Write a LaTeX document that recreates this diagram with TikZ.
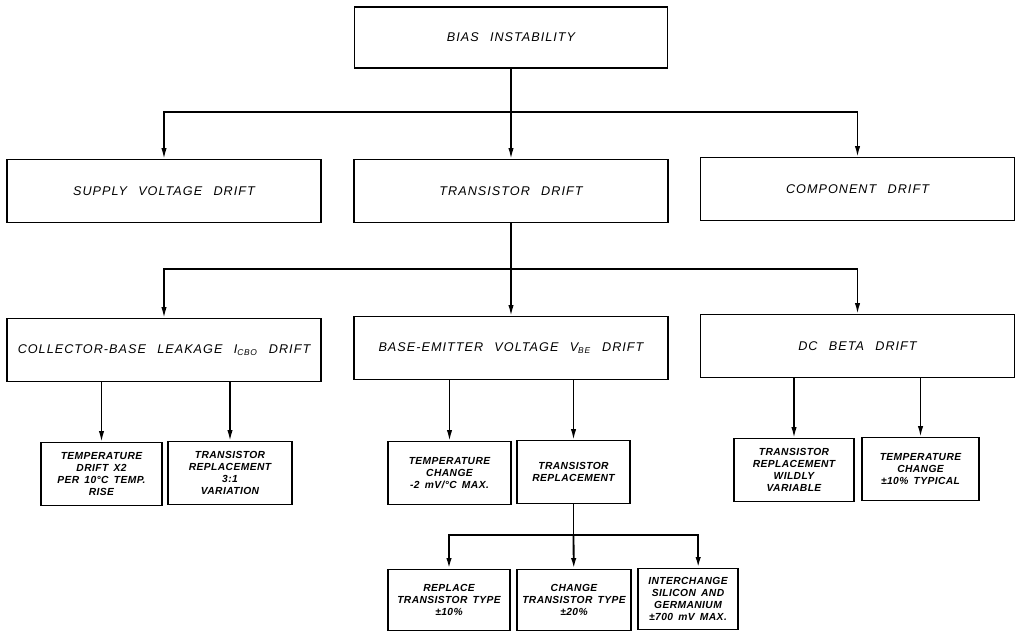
\documentclass[tikz,border=0pt]{standalone}
\usepackage{fontspec}
\newfontfamily\bigletter[LetterSpace=8,WordSpace=2.5]{Liberation Sans}
\newfontfamily\smallletter[LetterSpace=4,WordSpace=1.6]{Liberation Sans}
\usetikzlibrary{arrows.meta, positioning, calc}

\begin{document}
\begin{tikzpicture}[
        x=0.25mm, y=-0.25mm,
        >={Latex[length=7.5pt,width=3.8pt]},
        line width=1pt,
        bigbox/.style={
            draw=black,
            line width=1.2pt,
            align=center,
            inner sep=2pt,
            minimum width=78.5mm,
            minimum height=15.75mm,
            font=\bigletter\itshape\fontsize{9}{10.8}\selectfont
        },
        smallbox/.style={
            draw=black,
            line width=1.2pt,
            align=center,
            inner sep=1pt,
            minimum height=15.75mm,
            font=\smallletter\bfseries\itshape\fontsize{7.3}{8.6}\selectfont
        }
    ]
        \useasboundingbox (0,0) rectangle (1017,631);

        % top
        \node[bigbox, minimum width=78.25mm, minimum height=15.25mm] (c2r1) at (511, 37.5) {BIAS INSTABILITY};

        % second row
        \node[bigbox] (c1r2) at (164, 191)   {SUPPLY VOLTAGE DRIFT};
        \node[bigbox] (c2r2) at (511, 191)   {TRANSISTOR DRIFT};
        \node[bigbox] (c3r2) at (857.5, 189) {COMPONENT DRIFT};

        % third row
        \node[bigbox] (c1r3) at (164, 350)   {COLLECTOR-BASE LEAKAGE I\textsubscript{CBO} DRIFT};
        \node[bigbox] (c2r3) at (511, 348)   {BASE-EMITTER VOLTAGE V\textsubscript{BE} DRIFT};
        \node[bigbox] (c3r3) at (857.5, 346) {DC BETA DRIFT};

        % fourth row
        \node[smallbox, minimum width=30.25mm] (c1r4) at (101.5, 474) {TEMPERATURE\\DRIFT X2\\PER\enspace 10°C TEMP.\\RISE};
        \node[smallbox, minimum width=31mm]    (c2r4) at (230, 473)   {TRANSISTOR\\REPLACEMENT\\3:1\\VARIATION};
        \node[smallbox, minimum width=30.75mm] (c3r4) at (449.5, 473) {TEMPERATURE\\CHANGE\\-2\enspace mV/°C MAX.};
        \node[smallbox, minimum width=28.25mm] (c4r4) at (573.5, 472) {TRANSISTOR\\REPLACEMENT};
        \node[smallbox, minimum width=30mm]    (c5r4) at (794, 470)   {TRANSISTOR\\REPLACEMENT\\WILDLY\\VARIABLE};
        \node[smallbox, minimum width=29.25mm] (c6r4) at (920.5, 469) {TEMPERATURE\\CHANGE\\±10\% TYPICAL};

        % fifth row
        \node[smallbox, minimum width=30.5mm, minimum height=15.25mm] (c1r5) at (449, 600)  {REPLACE\\TRANSISTOR TYPE\\±10\%};
        \node[smallbox, minimum width=28.5mm, minimum height=15.25mm] (c2r5) at (574, 600)  {CHANGE\\TRANSISTOR TYPE\\±20\%};
        \node[smallbox, minimum width=25mm, minimum height=15.25mm]   (c3r5) at (688, 599)  {INTERCHANGE\\SILICON AND\\GERMANIUM\\±700 mV MAX.};

        \coordinate (bus1) at (511, 112);
        \coordinate (bus2) at (511, 269);
        \coordinate (bus5) at (573.5, 535);
        \coordinate (c3r5top) at ($(c3r5.north west)!0.6!(c3r5.north east)$);

        \draw (c2r1) -- (bus1);
        \draw[->] (bus1) -| (c1r2.north);
        \draw[->] (bus1) -- (c2r2);
        \draw[->] (bus1) -| (c3r2.north);

        \draw (c2r2) -- (bus2);
        \draw[->] (bus2) -| (c1r3.north);
        \draw[->] (bus2) -- (c2r3);
        \draw[->] (bus2) -| (c3r3.north);

        \draw[->] (c1r3.south -| c1r4.north) -- (c1r4.north);
        \draw[->] (c1r3.south -| c2r4.north) -- (c2r4.north);
        \draw[->] (c2r3.south -| c3r4.north) -- (c3r4.north);
        \draw[->] (c2r3.south -| c4r4.north) -- (c4r4.north);
        \draw[->] (c3r3.south -| c5r4.north) -- (c5r4.north);
        \draw[->] (c3r3.south -| c6r4.north) -- (c6r4.north);

        \draw[line width=1.3pt] (c4r4) -- (bus5);
        \draw[->, line width=1.3pt] (bus5) -| (c1r5.north);
        \draw[->, line width=1.3pt] (bus5) -- (c2r5);
        \draw[->, line width=1.3pt] (bus5) -| (c3r5top);

    \end{tikzpicture}
\end{document}
